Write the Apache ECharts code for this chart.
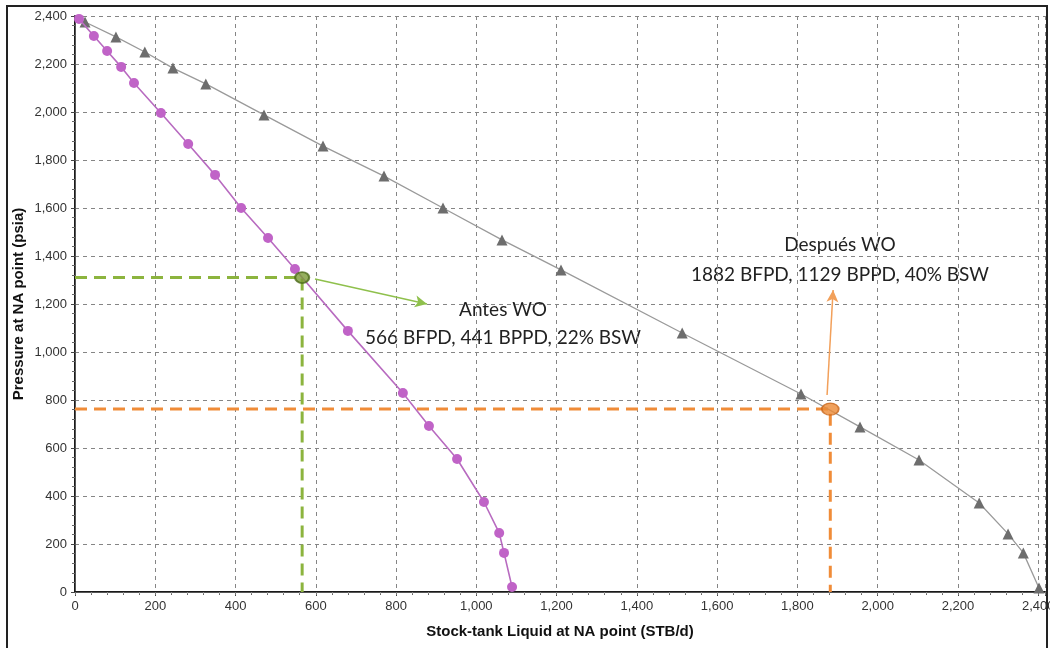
<!DOCTYPE html>
<html>
<head>
<meta charset="utf-8">
<script src="https://cdn.jsdelivr.net/npm/echarts@6/dist/echarts.min.js"></script>
<style>
  html, body { margin: 0; padding: 0; background: #fff; }
  #chart { width: 1050px; height: 648px; }
</style>
</head>
<body>
<div id="chart"></div>
<script>
// Inflow performance curve before the workover (STB/d, psia)
const beforeRate = [10, 47, 80, 115, 147, 214, 282, 349, 414, 481, 548, 680, 817, 882, 952, 1019, 1057, 1069, 1089];
const beforePressure = [2388, 2317, 2254, 2188, 2121, 1996, 1867, 1738, 1600, 1475, 1346, 1088, 829, 692, 554, 375, 246, 163, 21];

// Inflow performance curve after the workover (STB/d, psia)
const afterRate = [25, 102, 174, 244, 326, 471, 618, 770, 917, 1064, 1211, 1513, 1809, 1956, 2103, 2253, 2325, 2363, 2402];
const afterPressure = [2375, 2313, 2250, 2183, 2117, 1988, 1858, 1733, 1600, 1467, 1342, 1079, 825, 688, 550, 371, 242, 163, 17];

// Operating points [rate, pressure]
const pointBefore = [566, 1310];
const pointAfter = [1882, 762];

// Annotation texts
const labelBefore = ['Antes WO', '566 BFPD, 441 BPPD, 22% BSW'];
const labelAfter = ['Después WO', '1882 BFPD, 1129 BPPD, 40% BSW'];

// Axis ranges
const rateMax = 2417;
const pressureMax = 2400;
const tickStep = 200;

const zip = (xs, ys) => xs.map((x, i) => [x, ys[i]]);

const chart = echarts.init(document.getElementById('chart'), null, { renderer: 'canvas' });

const gridDash = { color: '#858585', width: 1, type: [4, 4] };
const tickFont = { fontFamily: 'Liberation Sans, Arial, sans-serif', fontSize: 13, color: '#333' };
const nameFont = { fontFamily: 'Liberation Sans, Arial, sans-serif', fontSize: 15, fontWeight: 'bold', color: '#111' };

chart.setOption({
  animation: false,
  backgroundColor: '#fff',
  grid: { left: 75, right: 5, top: 16, bottom: 56, containLabel: false, outerBoundsMode: 'none' },
  xAxis: [{
    type: 'value', min: 0, max: rateMax, interval: tickStep,
    name: 'Stock-tank Liquid at NA point (STB/d)', nameLocation: 'middle', nameGap: 32,
    nameMoveOverlap: false,
    nameTextStyle: nameFont,
    axisLine: { show: true, lineStyle: { color: '#1a1a1a', width: 2 } },
    axisTick: { show: true, length: 4, lineStyle: { color: '#444' } },
    minorTick: { show: true, splitNumber: 5, length: 3, lineStyle: { color: '#666' } },
    axisLabel: Object.assign({ margin: 8, showMaxLabel: false }, tickFont),
    splitLine: { show: true, lineStyle: gridDash }
  }, {
    type: 'value', min: 0, max: rateMax, interval: tickStep, position: 'top',
    axisLine: { show: true, lineStyle: { color: '#555', width: 1 } },
    axisTick: { show: true, inside: true, length: 3, lineStyle: { color: '#777' } },
    minorTick: { show: true, splitNumber: 5, length: 2, lineStyle: { color: '#888' } },
    axisLabel: { show: false },
    splitLine: { show: false }
  }],
  yAxis: [{
    type: 'value', min: 0, max: pressureMax, interval: tickStep,
    name: 'Pressure at NA point (psia)', nameLocation: 'middle', nameGap: 49,
    nameMoveOverlap: false,
    nameTextStyle: nameFont,
    axisLine: { show: true, lineStyle: { color: '#1a1a1a', width: 2 } },
    axisTick: { show: true, length: 4, lineStyle: { color: '#444' } },
    minorTick: { show: true, splitNumber: 5, length: 3, lineStyle: { color: '#666' } },
    axisLabel: Object.assign({ margin: 8 }, tickFont),
    splitLine: { show: true, lineStyle: gridDash }
  }, {
    type: 'value', min: 0, max: pressureMax, interval: tickStep, position: 'right',
    axisLine: { show: true, lineStyle: { color: '#555', width: 1 } },
    axisTick: { show: false },
    axisLabel: { show: false },
    splitLine: { show: false }
  }],
  series: [
    {
      // dashed guides to the operating point before the workover
      type: 'line', silent: true, symbol: 'none', z: 3,
      data: [[0, pointBefore[1]], pointBefore, [pointBefore[0], 0]],
      lineStyle: { color: '#8cb43e', width: 3, type: [12, 7] }
    },
    {
      // dashed guides to the operating point after the workover
      type: 'line', silent: true, symbol: 'none', z: 3,
      data: [[0, pointAfter[1]], pointAfter, [pointAfter[0], 0]],
      lineStyle: { color: '#f08c38', width: 3, type: [12, 7] }
    },
    {
      name: 'IPR after', type: 'line', z: 4,
      data: zip(afterRate, afterPressure),
      symbol: 'triangle', symbolSize: 11,
      lineStyle: { color: '#9a9a9a', width: 1.3 },
      itemStyle: { color: '#6d6d6d' }
    },
    {
      name: 'IPR before', type: 'line', z: 5,
      data: zip(beforeRate, beforePressure),
      symbol: 'circle', symbolSize: 10,
      lineStyle: { color: '#b86bc0', width: 1.6 },
      itemStyle: { color: '#c063c7' }
    },
    {
      // operating points and arrows pointing to their descriptions
      type: 'scatter', z: 6, silent: true,
      data: [
        { value: pointBefore, symbolSize: [14, 11], itemStyle: { color: '#7a9b36', borderColor: '#4e6b1c', borderWidth: 2 } },
        { value: pointAfter, symbolSize: [17, 12], itemStyle: { color: '#ec8a35', borderColor: '#c9661b', borderWidth: 1.5 } }
      ],
      markLine: {
        silent: true, symbol: ['none', 'arrow'], symbolSize: [9, 12],
        label: { show: false },
        data: [
          [{ coord: [598, 1304], lineStyle: { color: '#8fc04c', width: 1.5, type: 'solid' } }, { coord: [877, 1200] }],
          [{ coord: [1874, 821], lineStyle: { color: '#f2a05a', width: 1.5, type: 'solid' } }, { coord: [1889, 1258] }]
        ]
      }
    }
  ],
  graphic: [
    {
      type: 'rect', silent: true, z: 0,
      shape: { x: 7, y: 6, width: 1040, height: 660 },
      style: { fill: 'none', stroke: '#222', lineWidth: 2 }
    },
    {
      type: 'text', silent: true, x: 503, y: 310,
      style: { text: labelBefore[0], textAlign: 'center', textVerticalAlign: 'middle', fontFamily: 'Lato', fontSize: 19, fill: '#222' }
    },
    {
      type: 'text', silent: true, x: 503, y: 338,
      style: { text: labelBefore[1], textAlign: 'center', textVerticalAlign: 'middle', fontFamily: 'Lato', fontSize: 19, fill: '#222' }
    },
    {
      type: 'text', silent: true, x: 840, y: 245,
      style: { text: labelAfter[0], textAlign: 'center', textVerticalAlign: 'middle', fontFamily: 'Lato', fontSize: 19, fill: '#222' }
    },
    {
      type: 'text', silent: true, x: 840, y: 275,
      style: { text: labelAfter[1], textAlign: 'center', textVerticalAlign: 'middle', fontFamily: 'Lato', fontSize: 19, fill: '#222' }
    }
  ]
});
</script>
</body>
</html>
